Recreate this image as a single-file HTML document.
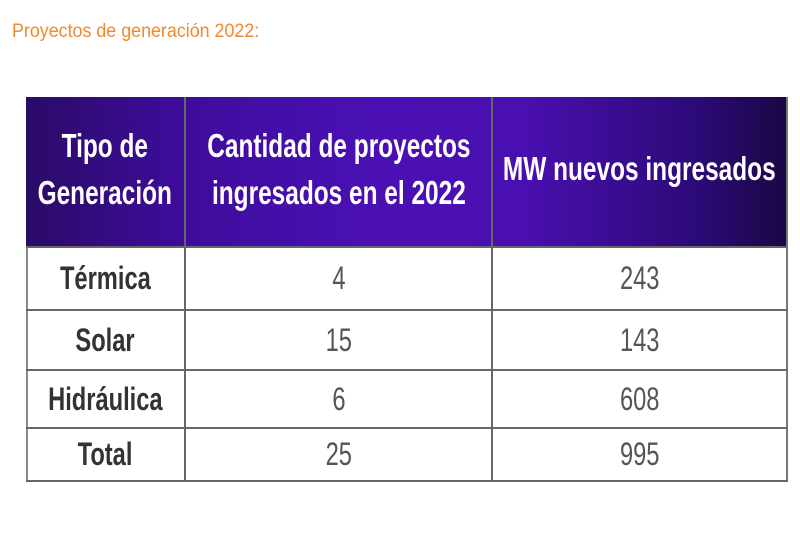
<!DOCTYPE html>
<html><head><meta charset="utf-8"><style>
body{margin:0;width:800px;height:533px;background:#fff;position:relative;overflow:hidden;font-family:"Liberation Sans Narrow","Liberation Sans",sans-serif}
.t{position:absolute;white-space:nowrap;display:flex;justify-content:center;align-items:center}
.t span{display:inline-block;transform:scaleX(.74);text-align:center}
.title{position:absolute;left:12px;top:21px;color:#f08a2c;font-size:19px;transform:scaleX(.94);transform-origin:left}
.hdr{position:absolute;left:26px;top:97px;width:761px;height:149px;background:linear-gradient(90deg,#2a0b66 0%,#3d0c9a 20%,#4a10b4 45%,#4a0fb0 65%,#2c0a78 88%,#1b0745 100%)}
.vl{position:absolute;width:2px;background:#666}
.hl{position:absolute;height:2px;background:#666;left:26px;width:761px}
.h{color:#fff;font-weight:bold;font-size:33px;line-height:47px}
.b{color:#333;font-weight:bold;font-size:32px}
.n{color:#555;font-size:32px}
</style></head><body>
<div class="title">Proyectos de generación 2022:</div>
<div class="hdr"></div>
<div class="vl" style="left:184px;top:97px;height:385px"></div>
<div class="vl" style="left:491px;top:97px;height:385px"></div>
<div class="vl" style="left:26px;top:246px;height:236px;background:#888"></div>
<div class="vl" style="left:786px;top:97px;height:385px;background:#777"></div>
<div class="hl" style="top:246px"></div>
<div class="hl" style="top:309px"></div>
<div class="hl" style="top:369px"></div>
<div class="hl" style="top:427px"></div>
<div class="hl" style="top:480px"></div>

<div class="t h" style="left:26px;width:158px;top:95px;height:147px"><span>Tipo de<br>Generación</span></div>
<div class="t h" style="left:186px;width:305px;top:95px;height:147px"><span>Cantidad de proyectos<br>ingresados en el 2022</span></div>
<div class="t h" style="left:493px;width:293px;top:95px;height:147px"><span>MW nuevos ingresados</span></div>

<div class="t b" style="left:26px;width:158px;top:248px;height:61px"><span>Térmica</span></div>
<div class="t b" style="left:26px;width:158px;top:311px;height:58px"><span>Solar</span></div>
<div class="t b" style="left:26px;width:158px;top:371px;height:56px"><span>Hidráulica</span></div>
<div class="t b" style="left:26px;width:158px;top:429px;height:51px"><span>Total</span></div>

<div class="t n" style="left:186px;width:305px;top:248px;height:61px"><span>4</span></div>
<div class="t n" style="left:186px;width:305px;top:311px;height:58px"><span>15</span></div>
<div class="t n" style="left:186px;width:305px;top:371px;height:56px"><span>6</span></div>
<div class="t n" style="left:186px;width:305px;top:429px;height:51px"><span>25</span></div>

<div class="t n" style="left:493px;width:293px;top:248px;height:61px"><span>243</span></div>
<div class="t n" style="left:493px;width:293px;top:311px;height:58px"><span>143</span></div>
<div class="t n" style="left:493px;width:293px;top:371px;height:56px"><span>608</span></div>
<div class="t n" style="left:493px;width:293px;top:429px;height:51px"><span>995</span></div>
</body></html>
